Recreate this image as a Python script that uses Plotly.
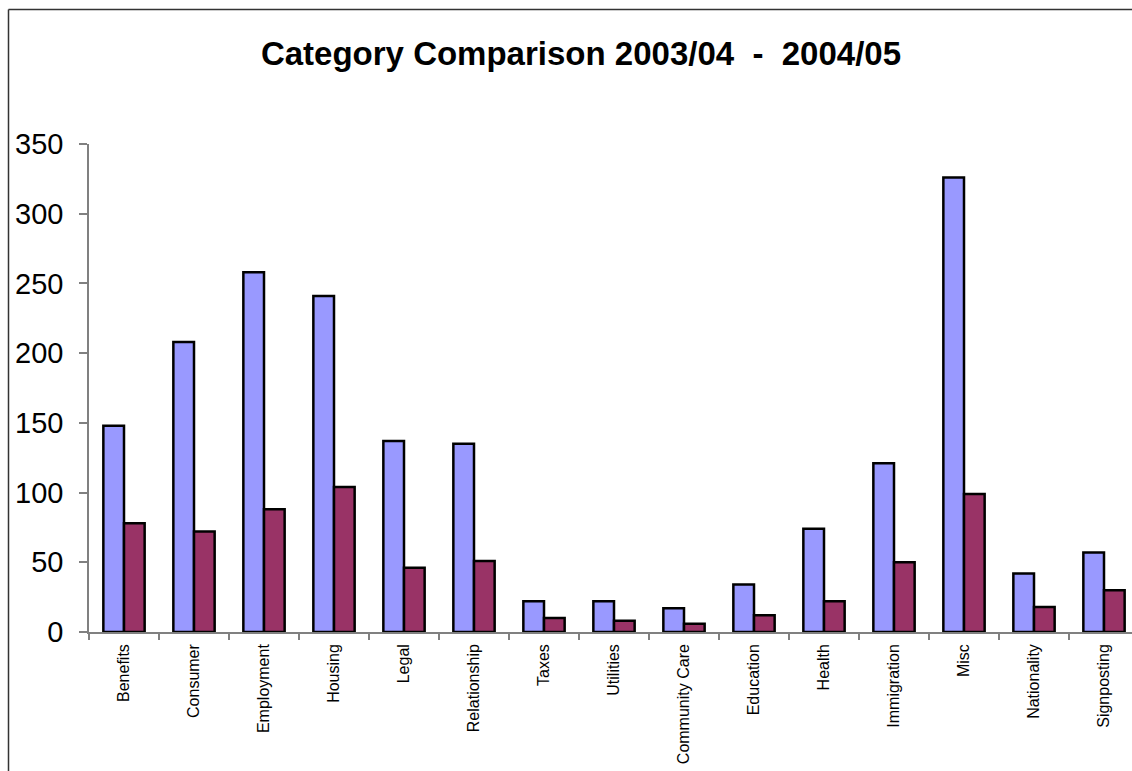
import plotly.graph_objects as go

# Enquiry counts per category for the two reporting years
categories = ["Benefits", "Consumer", "Employment", "Housing", "Legal", "Relationship",
              "Taxes", "Utilities", "Community Care", "Education", "Health",
              "Immigration", "Misc", "Nationality", "Signposting"]
year_2003_04 = [148, 208, 258, 241, 137, 135, 22, 22, 17, 34, 74, 121, 326, 42, 57]
year_2004_05 = [78, 72, 88, 104, 46, 51, 10, 8, 6, 12, 22, 50, 99, 18, 30]
y_ticks = [0, 50, 100, 150, 200, 250, 300, 350]

W, H = 1132, 771
ML, MR, MT, MB = 89, 0, 144, 139
CAT_PX = 70  # pixel width of one category slot

plot_w = W - ML - MR
plot_h = H - MT - MB

fig = go.Figure()
fig.add_trace(go.Bar(
    x=categories, y=year_2003_04, name="2003/04",
    marker=dict(color="#9999FF", line=dict(color="#000000", width=2.5)),
))
fig.add_trace(go.Bar(
    x=categories, y=year_2004_05, name="2004/05",
    marker=dict(color="#993366", line=dict(color="#000000", width=2.5)),
))

# Outer chart frame (left and top edges)
def px_to_paper_x(px):
    return (px - ML) / plot_w

def px_to_paper_y(py):
    return (H - MB - py) / plot_h

frame = dict(color="#333333", width=1.5)
fig.add_shape(type="line", xref="paper", yref="paper",
              x0=px_to_paper_x(8.5), x1=px_to_paper_x(W + 5),
              y0=px_to_paper_y(9.5), y1=px_to_paper_y(9.5), line=frame)
fig.add_shape(type="line", xref="paper", yref="paper",
              x0=px_to_paper_x(8.5), x1=px_to_paper_x(8.5),
              y0=px_to_paper_y(9.5), y1=px_to_paper_y(H + 5), line=frame)

fig.update_layout(
    width=W, height=H,
    margin=dict(l=ML, r=MR, t=MT, b=MB, pad=0),
    paper_bgcolor="white", plot_bgcolor="white",
    barmode="group", bargap=0.41, bargroupgap=0,
    showlegend=False,
    font=dict(family="Liberation Sans, Arial, sans-serif", color="#000000"),
    title=dict(
        text="<b>Category Comparison 2003/04\u00a0\u00a0-\u00a0\u00a02004/05</b>",
        x=581 / W, xanchor="center", y=1 - 53 / H, yanchor="middle",
        xref="container", yref="container",
        font=dict(size=33, family="Liberation Sans, Arial, sans-serif"),
    ),
    xaxis=dict(
        type="category",
        range=[-0.5, -0.5 + plot_w / CAT_PX],
        tickson="boundaries", ticks="outside", ticklen=6, tickcolor="#808080",
        tickwidth=1.5,
        showline=True, linecolor="#808080", linewidth=1.5,
        showgrid=False, tickangle=-90,
        tickfont=dict(size=16),
        ticklabelstandoff=4,
        fixedrange=True,
    ),
    yaxis=dict(
        range=[0, 350], tickvals=y_ticks,
        ticks="outside", ticklen=8, tickcolor="#808080", tickwidth=1.5,
        showline=True, linecolor="#808080", linewidth=1.5,
        showgrid=False, zeroline=False,
        tickfont=dict(size=29),
        ticklabelstandoff=10,
        fixedrange=True,
    ),
)

fig.write_html("out.html", config={"displayModeBar": False})
